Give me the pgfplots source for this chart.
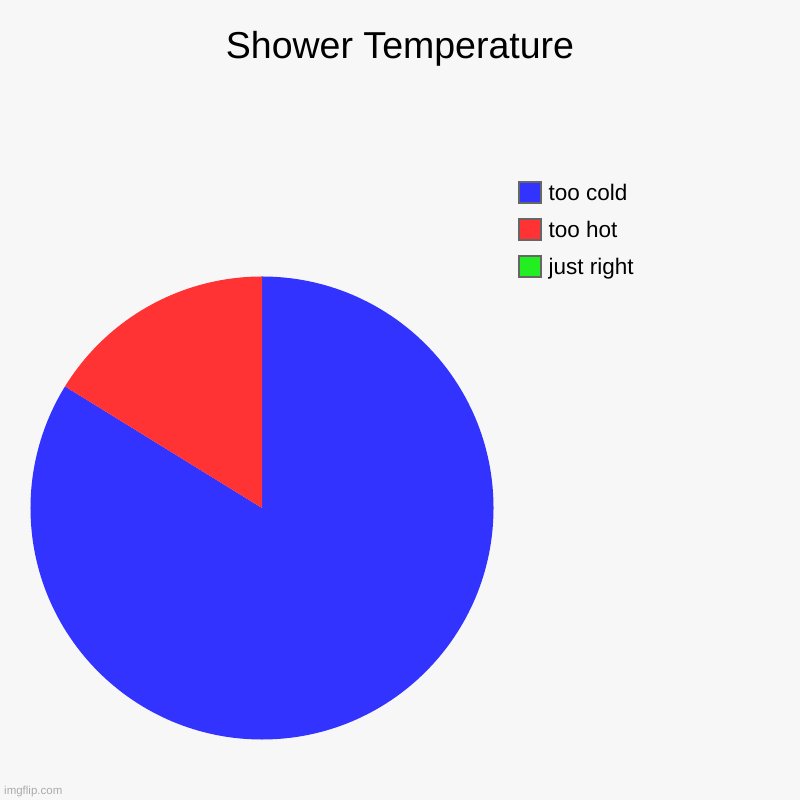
\documentclass[border=0pt]{standalone}
\usepackage{fontspec}
\setmainfont{Liberation Sans}
\usepackage{pgfplots}
\usepackage{pgfplotstable}
\pgfplotsset{compat=1.18}
\definecolor{bg}{HTML}{F7F7F7}
\definecolor{cold}{HTML}{3333FF}
\definecolor{hot}{HTML}{FF3333}
\definecolor{right}{HTML}{22EE22}
\definecolor{edge}{HTML}{666666}

% shares of the pie, in percent
\pgfplotstableread{
label value
cold  83.8
hot   16.2
right 0
}\showerdata

\begin{document}
\begin{tikzpicture}
\pgfplotstablegetelem{0}{value}\of\showerdata
\pgfmathsetmacro\coldangle{-3.6*\pgfplotsretval}
\pgfplotstablegetelem{1}{value}\of\showerdata
\pgfmathsetmacro\hotangle{-3.6*\pgfplotsretval}
\pgfmathsetmacro\hotstart{90+\coldangle}
\begin{axis}[
  hide axis,
  x=1bp, y=1bp,
  xmin=0, xmax=800, ymin=0, ymax=800,
  scale only axis,
  clip=false,
  legend cell align=left,
  legend image code/.code={
    \path[draw=none, fill=none] (0bp,-18.5bp) rectangle (24bp,18.5bp);
    \draw[#1, draw=edge, line width=2bp] (1bp,-10.5bp) rectangle (23bp,10.5bp);
  },
  legend style={
    at={(axis cs:518,800-174)}, anchor=north west,
    draw=none, fill=none, inner sep=0pt,
    column sep=6.5bp, row sep=0pt,
    font=\fontsize{22.5bp}{24bp}\selectfont,
    nodes={inner sep=0pt},
  },
]
\fill[bg] (axis cs:0,0) rectangle (axis cs:800,800);

\addplot[fill=cold, draw=none] coordinates {(262,292) (262,523.5)}
  arc[start angle=90, delta angle=\coldangle, radius=231.5bp] -- cycle;
\addlegendentry{too cold}
\addplot[fill=hot, draw=none] coordinates {(262,292)}
  -- ++(\hotstart:231.5bp)
  arc[start angle=\hotstart, delta angle=\hotangle, radius=231.5bp] -- cycle;
\addlegendentry{too hot}
\addlegendimage{fill=right}
\addlegendentry{just right}

\node[anchor=base, font=\fontsize{37.5bp}{40bp}\selectfont]
  at (axis cs:400,741.7) {Shower Temperature};
\node[anchor=base west, text=black!33, font=\fontsize{11.5bp}{13bp}\selectfont, inner sep=0pt]
  at (axis cs:4,5) {imgflip.com};
\end{axis}
\end{tikzpicture}
\end{document}
